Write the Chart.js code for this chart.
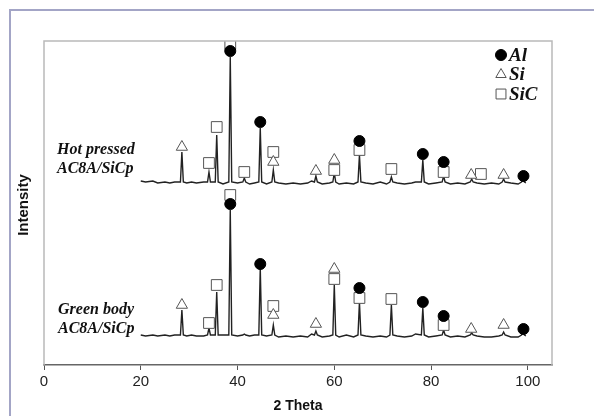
<!DOCTYPE html>
<html>
<head>
<meta charset="utf-8">
<script src="https://cdn.jsdelivr.net/npm/chart.js@4/dist/chart.umd.min.js"></script>
<style>
    html, body { margin: 0; padding: 0; background: #fff; }
    #wrap { position: relative; width: 594px; height: 416px; overflow: hidden; }
    #cadre { position: absolute; left: 9px; top: 9px; width: 700px; height: 500px;
             border-left: 2px solid #a3a5c6; border-top: 2px solid #a3a5c6; }
    canvas { position: absolute; left: 0; top: 0; }
    .etiquette { position: absolute; font: italic bold 16px "Liberation Serif", "DejaVu Serif", serif;
                 color: #111; line-height: 19px; }
    #titre-y { position: absolute; left: 22px; top: 205px; transform: translate(-50%, -50%) rotate(-90deg);
               font: bold 15px "Liberation Sans", Arial, sans-serif; color: #111; white-space: nowrap; }
</style>
</head>
<body>
<div id="wrap">
    <div id="cadre"></div>
    <canvas id="xrd" width="594" height="416"></canvas>
    <div class="etiquette" style="left:57px; top:139px;">Hot pressed<br>AC8A/SiCp</div>
    <div class="etiquette" style="left:58px; top:299px;">Green body<br>AC8A/SiCp</div>
    <div id="titre-y">Intensity</div>
</div>
<script>
// axe 2 theta
const ticksX = [0, 20, 40, 60, 80, 100];

// pics : position 2 theta
const picsTheta = [28.5, 34.1, 35.7, 38.5, 41.4, 44.7, 47.4, 56.2, 60.0, 65.2, 71.8, 78.3, 82.6, 88.4, 95.0, 99.0];
// hauteur des pics (intensite, unites arbitraires)
const picsHotPressed = [213, 193, 230, 308, 187, 237, 195, 189, 192, 210, 188, 205, 189, 186, 186, 185];
const picsGreenBody = [55, 37, 73, 155, 31, 97, 40, 34, 80, 63, 60, 57, 35, 32, 33, 32];

// fond continu
const fondTheta = [20, 21, 22.5, 23.5, 25, 26, 27, 29.5, 30.5, 31.5, 33, 37, 40, 42.5, 43.5, 46, 48.5, 50, 51.5, 53, 54.5, 55.3, 57.5, 59, 61, 62.5, 64, 66.5, 68, 69.5, 70.8, 73, 74.5, 76, 76.8, 79.5, 81, 84, 85.5, 87, 89.5, 91, 92.5, 94, 96.5, 98, 99.6];
const fondHotPressed = [184, 183, 184, 182, 183, 182, 183, 182, 183, 182, 183, 181, 182, 181, 182, 181, 182, 181, 182, 181, 182, 184, 181, 182, 181, 182, 181, 182, 181, 183, 181, 182, 181, 182, 183, 181, 182, 181, 182, 181, 182, 181, 182, 181, 182, 181, 182];
const fondGreenBody = [30, 29, 30, 29, 30, 29, 30, 29, 30, 29, 29, 30, 29, 29, 30, 29, 28, 29, 28, 29, 28, 31, 28, 29, 28, 30, 28, 29, 28, 29, 28, 29, 28, 29, 31, 28, 29, 28, 29, 28, 29, 28, 28, 29, 28, 28, 29];

// marqueurs des phases, courbe du haut
const alHotX = [38.5, 44.7, 65.2, 78.3, 82.6, 99.1];
const alHotY = [314, 243, 224, 211, 203, 189];
const siHotX = [28.5, 47.4, 56.2, 60.0, 88.3, 95.0];
const siHotY = [218, 203, 194, 205, 190, 190];
const sicHotX = [34.1, 35.7, 38.5, 41.4, 47.4, 60.0, 65.2, 71.8, 82.6, 90.3];
const sicHotY = [202, 238, 321, 193, 213, 195, 215, 196, 193, 191];

// marqueurs des phases, courbe du bas
const alGreenX = [38.5, 44.7, 65.2, 78.3, 82.6, 99.1];
const alGreenY = [161, 101, 77, 63, 49, 36];
const siGreenX = [28.5, 47.4, 56.2, 60.0, 88.3, 95.0];
const siGreenY = [60, 50, 41, 96, 36, 40];
const sicGreenX = [34.1, 35.7, 38.5, 47.4, 60.0, 65.2, 71.8, 82.6];
const sicGreenY = [42, 80, 170, 59, 86, 67, 66, 40];

const legendeNoms = ["Al", "Si", "SiC"];

function construireTrace(fond, pics) {
    const points = fondTheta.map((t, i) => ({ x: t, y: fond[i] }));
    picsTheta.forEach((t, i) => {
        const base = fond[0] > 100 ? 182 : 29;
        points.push({ x: t - 0.3, y: base + 1 });
        points.push({ x: t, y: pics[i] });
        points.push({ x: t + 0.3, y: base + 1 });
    });
    return points.sort((a, b) => a.x - b.x);
}

function paires(xs, ys) {
    return xs.map((x, i) => ({ x: x, y: ys[i] }));
}

const styleAl = { pointStyle: "circle", pointRadius: 5.5, backgroundColor: "#000", borderColor: "#000", pointBorderWidth: 1 };
const styleSi = { pointStyle: "triangle", pointRadius: 6.5, backgroundColor: "#fff", borderColor: "#555", pointBorderWidth: 1 };
const styleSiC = { pointStyle: "rect", pointRadius: 7.6, backgroundColor: "#fff", borderColor: "#555", pointBorderWidth: 1 };

function marqueurs(data, style) {
    return Object.assign({ type: "scatter", data: data, showLine: false, order: 0 }, style);
}

const cadrePlugin = {
    id: "cadre",
    afterDraw(chart) {
        const { ctx, chartArea } = chart;
        ctx.save();
        ctx.strokeStyle = "#b9b9b9";
        ctx.lineWidth = 1.5;
        ctx.beginPath();
        ctx.moveTo(chartArea.left, chartArea.bottom);
        ctx.lineTo(chartArea.left, chartArea.top);
        ctx.lineTo(chartArea.right, chartArea.top);
        ctx.lineTo(chartArea.right, chartArea.bottom);
        ctx.stroke();

        // legende
        const styles = [styleAl, styleSi, styleSiC];
        const tailles = [5.5, 6, 7];
        ctx.font = "italic bold 19px 'Liberation Serif', serif";
        ctx.textBaseline = "middle";
        legendeNoms.forEach((nom, i) => {
            const y = chartArea.top + 14 + i * 19.5;
            const x = chartArea.right - 51;
            ctx.fillStyle = styles[i].backgroundColor;
            ctx.strokeStyle = styles[i].borderColor;
            ctx.lineWidth = 1;
            Chart.helpers.drawPoint(ctx, { pointStyle: styles[i].pointStyle, radius: tailles[i], borderWidth: 1 }, x, y);
            ctx.fillStyle = "#111";
            ctx.fillText(nom, x + 8, y + 1);
        });
        ctx.restore();
    }
};

new Chart(document.getElementById("xrd"), {
    type: "line",
    data: {
        datasets: [
            { label: "Hot pressed", data: construireTrace(fondHotPressed, picsHotPressed), borderColor: "#222", borderWidth: 1.4, pointRadius: 0, tension: 0, order: 1 },
            { label: "Green body", data: construireTrace(fondGreenBody, picsGreenBody), borderColor: "#222", borderWidth: 1.4, pointRadius: 0, tension: 0, order: 1 },
            marqueurs(paires(alHotX, alHotY), styleAl),
            marqueurs(paires(siHotX, siHotY), styleSi),
            marqueurs(paires(sicHotX, sicHotY), styleSiC),
            marqueurs(paires(alGreenX, alGreenY), styleAl),
            marqueurs(paires(siGreenX, siGreenY), styleSi),
            marqueurs(paires(sicGreenX, sicGreenY), styleSiC)
        ]
    },
    options: {
        responsive: false,
        animation: false,
        events: [],
        layout: { padding: { left: 44, top: 41, right: 42, bottom: 0 } },
        plugins: { legend: { display: false }, tooltip: { enabled: false } },
        scales: {
            x: {
                type: "linear",
                min: 0,
                max: 105,
                afterBuildTicks: (scale) => { scale.ticks = ticksX.map(v => ({ value: v })); },
                afterFit: (scale) => { scale.height = 51; },
                grid: { drawOnChartArea: false, tickLength: 5, color: "#555" },
                border: { color: "#666", width: 1.5 },
                ticks: { color: "#222", font: { family: "'Liberation Sans', Arial, sans-serif", size: 15 }, padding: 3, maxRotation: 0 },
                title: { display: true, text: "2 Theta", color: "#111", font: { family: "'Liberation Sans', Arial, sans-serif", size: 14, weight: "bold" }, padding: { top: 0, bottom: 1 } }
            },
            y: {
                display: false,
                min: 0,
                max: 324
            }
        }
    },
    plugins: [cadrePlugin]
});
</script>
</body>
</html>
